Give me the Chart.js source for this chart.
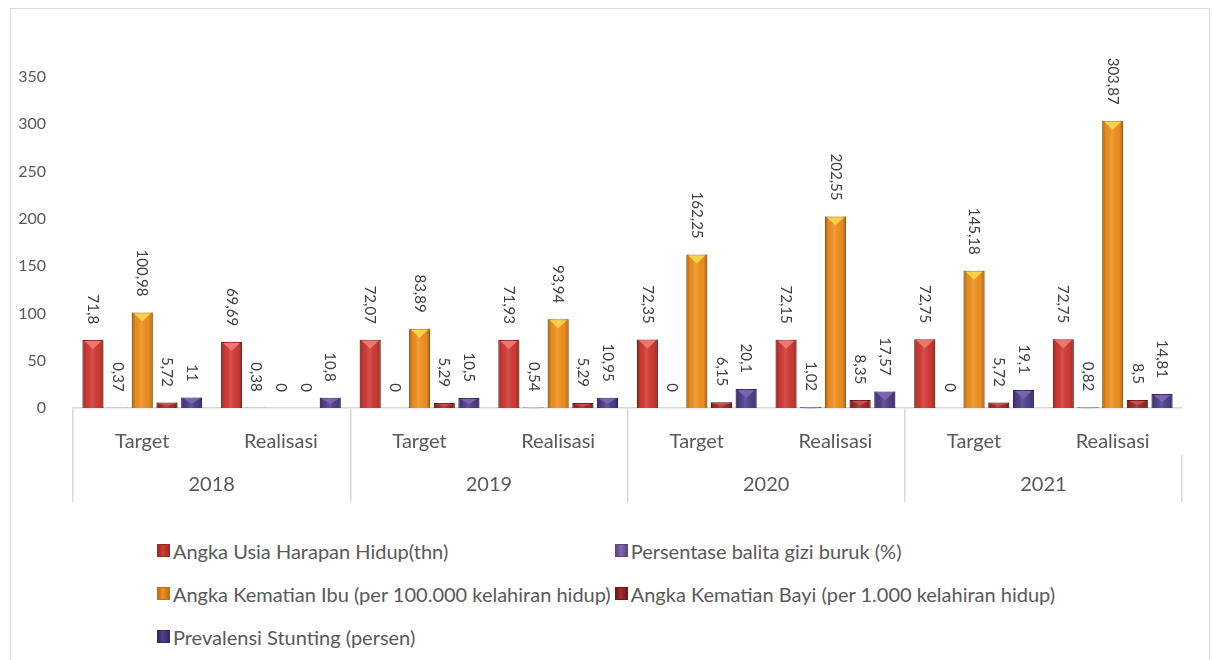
<!DOCTYPE html>
<html>
<head>
<meta charset="utf-8">
<script src="https://cdn.jsdelivr.net/npm/chart.js@4.4.0/dist/chart.umd.min.js"></script>
<style>
  body { margin: 0; background: #fff; font-family: Lato, sans-serif; }
  #frame { position: absolute; left: 10px; top: 8px; width: 1200px; height: 700px; border: 1px solid #d9d9d9; box-sizing: border-box; }
  #meuGrafico { position: absolute; left: 0; top: 0; }
  #legenda { position: absolute; left: 0; top: 529px; width: 1212px; display: flex; justify-content: center; }
  #legenda .grade { display: grid; grid-template-columns: auto auto; column-gap: 4px; }
  #legenda .item { display: flex; align-items: center; height: 43px; font-size: 20px; color: #595959; white-space: nowrap; }
  #legenda .caixa { width: 13px; height: 13px; margin-right: 3px; box-sizing: border-box; }
</style>
</head>
<body>
<div id="frame"></div>
<canvas id="meuGrafico" width="1212" height="520"></canvas>
<div id="legenda"><div class="grade"></div></div>
<script>
// categorias (dois níveis)
const kategori = ["Target", "Realisasi", "Target", "Realisasi", "Target", "Realisasi", "Target", "Realisasi"];
const tahun = ["2018", "2019", "2020", "2021"];
const yTicks = [0, 50, 100, 150, 200, 250, 300, 350];

// séries
const usiaHarapanHidup = [71.8, 69.69, 72.07, 71.93, 72.35, 72.15, 72.75, 72.75];
const giziBuruk = [0.37, 0.38, 0, 0.54, 0, 1.02, 0, 0.82];
const kematianIbu = [100.98, 0, 83.89, 93.94, 162.25, 202.55, 145.18, 303.87];
const kematianBayi = [5.72, 0, 5.29, 5.29, 6.15, 8.35, 5.72, 8.5];
const stunting = [11, 10.8, 10.5, 10.95, 20.1, 17.57, 19.1, 14.81];

const namaSeri = [
    "Angka Usia Harapan Hidup(thn)",
    "Persentase balita gizi buruk (%)",
    "Angka Kematian Ibu (per 100.000 kelahiran hidup)",
    "Angka Kematian Bayi (per 1.000 kelahiran hidup)",
    "Prevalensi Stunting (persen)"
];
const warna = ["#d33a34", "#8567b0", "#f2901f", "#a32a2a", "#513f8c"];
const warnaBorda = ["#9e2a25", "#5e4585", "#c46e12", "#6e1a1a", "#352862"];
const warnaTopo = ["#ec7670", "#a58ccc", "#f7d24a", "#c85050", "#7a66b0"];

const corTexto = "#595959";
const fonte = "Lato, sans-serif";

const datasets = [usiaHarapanHidup, giziBuruk, kematianIbu, kematianBayi, stunting].map((d, i) => ({
    label: namaSeri[i],
    data: d,
    backgroundColor: warna[i],
    borderColor: warnaBorda[i],
    borderWidth: 1,
    categoryPercentage: 0.89,
    barPercentage: 0.85
}));

// sombreado tipo "3D" + rótulos girados
const sombra = {
    id: "sombra",
    afterDatasetsDraw(chart) {
        const ctx = chart.ctx;
        chart.data.datasets.forEach((ds, di) => {
            const meta = chart.getDatasetMeta(di);
            meta.data.forEach((bar, i) => {
                const v = ds.data[i];
                const { x, y, base, width } = bar.getProps(["x", "y", "base", "width"], true);
                const l = x - width / 2, r = x + width / 2;
                if (v > 0) {
                    ctx.save();
                    const g = ctx.createLinearGradient(l, 0, r, 0);
                    g.addColorStop(0, "rgba(0,0,0,0.30)");
                    g.addColorStop(0.18, "rgba(0,0,0,0.04)");
                    g.addColorStop(0.45, "rgba(255,255,255,0.12)");
                    g.addColorStop(0.82, "rgba(0,0,0,0.04)");
                    g.addColorStop(1, "rgba(0,0,0,0.32)");
                    ctx.fillStyle = g;
                    ctx.fillRect(l, y, width, base - y);
                    const h = Math.min(8, (base - y) / 2);
                    ctx.fillStyle = warnaTopo[di];
                    ctx.beginPath();
                    ctx.moveTo(l + 2, y + 1);
                    ctx.lineTo(r - 2, y + 1);
                    ctx.lineTo(x, y + 1 + h);
                    ctx.closePath();
                    ctx.fill();
                    ctx.restore();
                }
                // rótulo
                ctx.save();
                ctx.font = "15px " + fonte;
                ctx.fillStyle = "#404040";
                ctx.translate(x, y - 16);
                ctx.rotate(Math.PI / 2);
                ctx.textAlign = "right";
                ctx.textBaseline = "middle";
                ctx.fillText(String(v).replace(".", ","), 0, 0);
                ctx.restore();
            });
        });
    }
};

const ctx = document.getElementById("meuGrafico").getContext("2d");
const grafico = new Chart(ctx, {
    type: "bar",
    data: { labels: kategori, datasets: datasets },
    options: {
        responsive: false,
        animation: false,
        layout: { padding: { top: 77, right: 30, bottom: 18, left: 0 } },
        plugins: { legend: { display: false }, tooltip: { enabled: false } },
        scales: {
            y: {
                min: 0,
                max: 350,
                afterBuildTicks: (s) => { s.ticks = yTicks.map(v => ({ value: v })); },
                afterFit: (s) => { s.width = 73; },
                grid: { display: false },
                border: { display: false },
                ticks: { padding: 19, color: corTexto, font: { family: fonte, size: 16 } }
            },
            x: {
                weight: 0,
                afterFit: (s) => { s.height = 47; },
                grid: {
                    display: true,
                    offset: true,
                    drawOnChartArea: false,
                    drawTicks: true,
                    tickLength: 47,
                    lineWidth: 1.5,
                    color: (c) => (c.index % 2 === 0 ? "#d9d9d9" : "rgba(0,0,0,0)")
                },
                border: { display: true, color: "#d9d9d9", width: 1.5 },
                ticks: { padding: -25, maxRotation: 0, autoSkip: false, color: corTexto, font: { family: fonte, size: 20 } }
            },
            x2: {
                type: "category",
                position: "bottom",
                labels: tahun,
                offset: true,
                weight: 1,
                afterFit: (s) => { s.height = 47; },
                grid: {
                    display: true,
                    offset: true,
                    drawOnChartArea: false,
                    drawTicks: true,
                    tickLength: 47,
                    lineWidth: 1.5,
                    color: "#d9d9d9"
                },
                border: { display: false },
                ticks: { padding: -29, maxRotation: 0, autoSkip: false, color: corTexto, font: { family: fonte, size: 20 } }
            }
        }
    },
    plugins: [sombra]
});

// legenda em HTML (duas colunas, como no original)
const grade = document.querySelector("#legenda .grade");
grafico.data.datasets.forEach((ds, i) => {
    const item = document.createElement("div");
    item.className = "item";
    const caixa = document.createElement("span");
    caixa.className = "caixa";
    caixa.style.background = `linear-gradient(to right, ${warnaBorda[i]}, ${warna[i]} 45%, ${warnaBorda[i]})`;
    caixa.style.border = `1px solid ${warnaBorda[i]}`;
    item.appendChild(caixa);
    item.appendChild(document.createTextNode(ds.label));
    grade.appendChild(item);
});
</script>
</body>
</html>
